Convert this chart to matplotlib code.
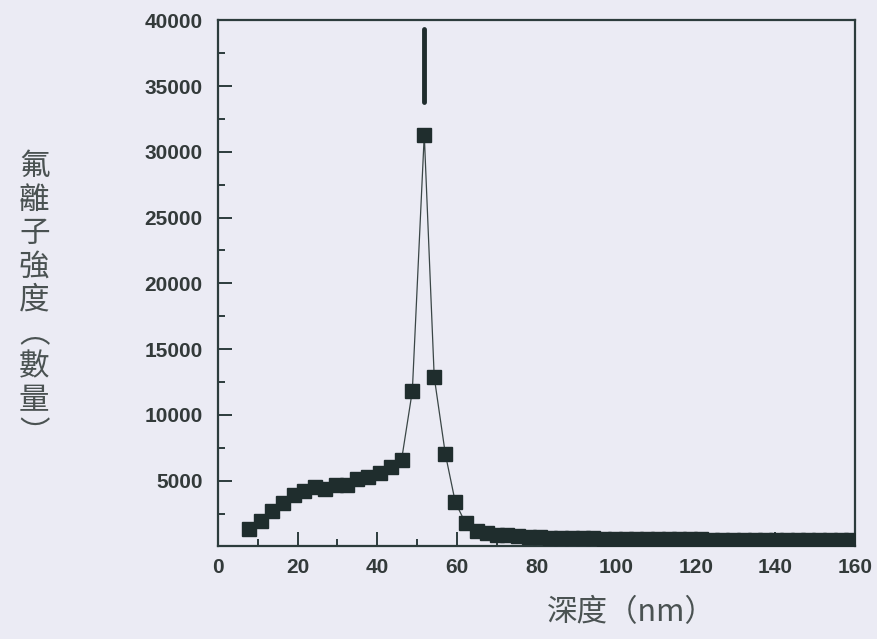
import matplotlib.pyplot as plt
from matplotlib.ticker import MultipleLocator

# depth (nm) and fluorine ion counts
depth = [7.9, 10.8, 13.6, 16.4, 19.0, 21.7, 24.4, 26.9, 29.6, 32.3, 35.0, 37.7,
         40.7, 43.5, 46.1, 48.8, 51.8, 54.3, 57.1, 59.6, 62.2, 65.0, 67.5, 70.0,
         72.7, 75.4, 78.1, 80.8, 83.5, 86.2, 88.9, 91.6, 94.3, 97.0, 99.7, 102.4,
         105.1, 107.8, 110.5, 113.2, 115.9, 118.6, 121.3, 124.0, 126.7, 129.4,
         132.1, 134.8, 137.5, 140.2, 142.9, 145.6, 148.3, 151.0, 153.7, 156.4, 159.1]
counts = [1340, 1970, 2670, 3310, 3940, 4240, 4490, 4370, 4670, 4700, 5130, 5250,
          5550, 6010, 6590, 11820, 31300, 12880, 7020, 3360, 1750, 1210, 1010, 910,
          850, 790, 740, 700, 680, 660, 640, 630, 610, 600, 600, 590,
          580, 570, 570, 560, 550, 550, 540, 530, 530, 520,
          510, 520, 500, 490, 500, 480, 470, 490, 470, 460, 500]

# vertical bar drawn above the peak
bar_x = [51.8]
bar_lo = [33800]
bar_hi = [39300]

bg = '#ebebf4'
ink = '#1f2d2d'

fig = plt.figure(figsize=(8.77, 6.39), dpi=100, facecolor=bg)
ax = fig.add_axes([0.2486, 0.1448, 0.7264, 0.8235])
ax.set_facecolor(bg)

ax.plot(depth, counts, color='#3a4646', lw=0.9, marker='s', ms=9.5,
        mfc=ink, mec=ink, zorder=3)
ax.vlines(bar_x, bar_lo, bar_hi, color=ink, lw=3.5, capstyle='round', zorder=3)

ax.set_xlim(0, 160)
ax.set_ylim(0, 40000)
ax.xaxis.set_major_locator(MultipleLocator(20))
ax.xaxis.set_minor_locator(MultipleLocator(10))
ax.yaxis.set_major_locator(MultipleLocator(5000))
ax.yaxis.set_minor_locator(MultipleLocator(2500))
ax.set_yticks(range(5000, 40001, 5000))

for s in ax.spines.values():
    s.set_color('#2c3c3c')
    s.set_linewidth(1.6)
ax.tick_params(which='both', direction='in', color='#2c3c3c', width=1.4,
               labelcolor='#333a3a', top=False, right=False)
ax.tick_params(which='major', length=10)
ax.tick_params(which='minor', length=5)
ax.tick_params(axis='x', pad=8)
ax.tick_params(axis='y', pad=11)
for lab in ax.get_xticklabels() + ax.get_yticklabels():
    lab.set_fontsize(15)
    lab.set_fontweight('bold')
    lab.set_family('Liberation Sans')

cjk = ['Noto Sans CJK TC', 'DejaVu Sans']
fig.text(0.72, 0.042, '深度（nm）', fontsize=22, family=cjk, color='#4a5252',
         ha='center', va='center')
fig.text(0.039, 0.53, '氟\n離\n子\n強\n度\n︵\n數\n量\n︶', fontsize=22,
         family=cjk, color='#4a5252', ha='center', va='center',
         linespacing=1.1)

plt.savefig('out.png', dpi=100, facecolor=bg)
